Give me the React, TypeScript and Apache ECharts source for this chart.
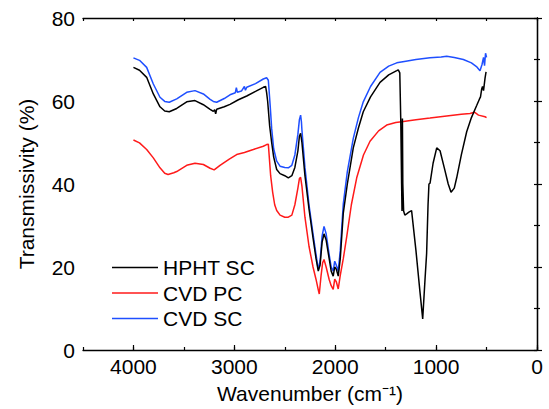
import React, { useEffect, useRef } from 'react';
import * as echarts from 'echarts';

// HPHT SC (black)
const hphtWn = [4000, 3940, 3869, 3803, 3737, 3690, 3645, 3571, 3472, 3390, 3307, 3240, 3208, 3195, 3185, 3175, 3100, 3043, 2960, 2877, 2790, 2713, 2690, 2680, 2670, 2650, 2630, 2610, 2580, 2547, 2500, 2465, 2430, 2400, 2370, 2355, 2343, 2330, 2300, 2260, 2220, 2190, 2168, 2150, 2130, 2111, 2090, 2060, 2040, 2020, 2005, 1990, 1970, 1950, 1920, 1880, 1821, 1770, 1722, 1650, 1556, 1470, 1390, 1375, 1360, 1350, 1342, 1338, 1334, 1330, 1322, 1310, 1292, 1270, 1243, 1200, 1160, 1133, 1110, 1094, 1080, 1071, 1060, 1030, 994, 961, 920, 880, 852, 820, 796, 750, 697, 650, 598, 570, 560, 548, 540, 530, 515, 505];
const hphtT = [68.1, 67.4, 65.7, 61.7, 58.6, 57.6, 57.4, 58.2, 59.8, 60.1, 59.1, 58.0, 57.5, 57.9, 56.9, 58.0, 58.6, 59.2, 60.3, 61.2, 62.3, 63.3, 63.5, 62.0, 60.0, 54.0, 50.0, 46.5, 43.5, 42.5, 42.0, 41.5, 42.0, 44.0, 48.0, 51.5, 52.2, 50.0, 42.0, 34.0, 27.0, 22.0, 19.0, 20.5, 26.0, 28.0, 26.5, 22.0, 19.0, 17.8, 20.0, 19.5, 17.8, 22.0, 33.0, 40.0, 48.7, 53.5, 57.4, 61.0, 64.5, 66.3, 67.3, 67.5, 66.8, 55.0, 40.0, 33.5, 55.8, 40.0, 33.5, 32.5, 32.8, 33.2, 33.6, 24.0, 14.0, 7.5, 17.0, 23.3, 35.0, 40.0, 40.2, 45.0, 48.7, 48.0, 44.0, 40.0, 38.0, 39.0, 41.5, 47.0, 52.6, 56.0, 58.9, 60.5, 61.0, 62.9, 63.5, 62.5, 65.5, 67.0];

// CVD PC (red)
const cvdPcWn = [4000, 3940, 3869, 3803, 3737, 3690, 3657, 3600, 3571, 3472, 3390, 3307, 3240, 3200, 3142, 3050, 2977, 2900, 2812, 2713, 2680, 2663, 2640, 2620, 2600, 2580, 2547, 2500, 2465, 2430, 2400, 2370, 2355, 2343, 2330, 2300, 2260, 2220, 2190, 2168, 2158, 2140, 2125, 2111, 2090, 2060, 2040, 2020, 2005, 1990, 1970, 1950, 1920, 1886, 1840, 1787, 1720, 1655, 1570, 1490, 1400, 1342, 1200, 1061, 895, 750, 664, 620, 580, 515, 500];
const cvdPcT = [50.6, 49.9, 48.3, 46.3, 43.9, 42.6, 42.3, 42.7, 43.0, 44.5, 45.0, 44.7, 43.8, 43.4, 44.5, 46.0, 47.1, 47.6, 48.3, 49.1, 49.5, 49.6, 42.0, 38.0, 35.0, 33.6, 32.5, 32.0, 32.0, 32.5, 35.0, 39.0, 41.3, 41.6, 39.5, 32.0, 25.0, 20.0, 17.0, 14.5, 13.5, 18.0, 21.0, 21.8, 20.0, 17.0, 15.5, 14.6, 17.1, 16.5, 14.7, 18.0, 22.0, 27.3, 35.0, 41.5, 47.0, 50.3, 52.8, 54.2, 54.8, 55.0, 55.5, 55.9, 56.4, 56.8, 57.0, 57.3, 56.6, 56.2, 56.0];

// CVD SC (blue)
const cvdScWn = [4000, 3940, 3869, 3803, 3737, 3690, 3645, 3571, 3472, 3390, 3307, 3240, 3208, 3175, 3100, 3043, 2990, 2980, 2970, 2930, 2900, 2890, 2877, 2790, 2713, 2680, 2663, 2645, 2630, 2610, 2580, 2547, 2500, 2465, 2430, 2400, 2370, 2355, 2343, 2335, 2330, 2300, 2260, 2220, 2190, 2168, 2150, 2130, 2111, 2090, 2060, 2040, 2020, 2005, 1990, 1970, 1950, 1920, 1880, 1821, 1770, 1722, 1650, 1556, 1470, 1390, 1300, 1200, 1061, 950, 895, 820, 730, 650, 600, 565, 545, 530, 520, 510, 500];
const cvdScT = [70.4, 69.8, 68.1, 64.1, 60.9, 59.9, 59.7, 60.5, 62.1, 62.5, 61.7, 60.4, 59.9, 59.7, 60.6, 61.5, 62.0, 63.2, 62.1, 62.4, 63.5, 62.6, 63.3, 64.2, 65.3, 65.6, 65.0, 59.0, 53.4, 48.5, 45.5, 44.3, 44.0, 43.9, 44.5, 47.0, 52.0, 55.5, 56.6, 55.0, 53.0, 44.0, 35.0, 28.0, 23.0, 19.4, 21.5, 27.5, 29.8, 28.0, 23.0, 20.0, 19.0, 21.4, 20.5, 19.0, 24.0, 35.2, 43.0, 51.0, 56.0, 59.8, 63.5, 66.9, 68.4, 69.2, 69.6, 70.0, 70.4, 70.6, 70.8, 70.5, 70.0, 69.2, 68.3, 67.3, 68.8, 70.5, 68.5, 71.5, 70.5];

const seriesNames = ['HPHT SC', 'CVD PC', 'CVD SC'];
const seriesColors = ['#000000', '#ff1a1a', '#1f4fff'];

const FONT = "'Liberation Sans', Arial, sans-serif";

function zip(a: number[], b: number[]) {
  return a.map((w, i) => [w, b[i]]);
}

export default function App() {
  const ref = useRef<HTMLDivElement>(null);
  useEffect(() => {
    const chart = echarts.init(ref.current!, null, { renderer: 'svg' });
    const axisLine = { show: true, lineStyle: { color: '#000', width: 1.3 } };
    const baseX = { type: 'value', min: 0, max: 4500, inverse: true, splitLine: { show: false } };
    const datas = [zip(hphtWn, hphtT), zip(cvdPcWn, cvdPcT), zip(cvdScWn, cvdScT)];
    chart.setOption({
      animation: false,
      backgroundColor: '#fff',
      grid: { left: 83, right: 12, top: 18, bottom: 54, containLabel: false },
      legend: {
        data: seriesNames,
        orient: 'vertical',
        left: 112,
        top: 257,
        padding: 0,
        itemGap: 4.5,
        itemWidth: 46,
        itemHeight: 1.6,
        icon: 'rect',
        textStyle: { fontSize: 21, fontFamily: FONT, color: '#000', lineHeight: 21 },
      },
      xAxis: [
        {
          ...baseX,
          interval: 1000,
          position: 'bottom',
          axisLine,
          axisTick: { show: true, inside: true, length: 5, lineStyle: { color: '#000', width: 1.2 } },
          axisLabel: {
            fontSize: 21,
            fontFamily: FONT,
            color: '#000',
            margin: 6,
            showMaxLabel: false,
            formatter: (v: number) => String(v),
          },
          name: 'Wavenumber (cm⁻¹)',
          nameLocation: 'middle',
          nameGap: 33,
          nameTextStyle: { fontSize: 21, fontFamily: FONT, color: '#000' },
        },
        {
          ...baseX,
          interval: 500,
          position: 'bottom',
          axisLine: { show: false },
          axisTick: { show: true, inside: true, length: 3, lineStyle: { color: '#000', width: 1.2 } },
          axisLabel: { show: false },
        },
        {
          ...baseX,
          interval: 500,
          position: 'top',
          axisLine,
          axisTick: { show: true, inside: true, length: 3, lineStyle: { color: '#000', width: 1.2 } },
          axisLabel: { show: false },
        },
      ],
      yAxis: [
        {
          type: 'value',
          min: 0,
          max: 80,
          interval: 20,
          position: 'left',
          axisLine,
          splitLine: { show: false },
          axisTick: { show: true, inside: true, length: 5, lineStyle: { color: '#000', width: 1.2 } },
          minorTick: { show: true, splitNumber: 2, length: 3, lineStyle: { color: '#000', width: 1.2 } },
          axisLabel: { fontSize: 21, fontFamily: FONT, color: '#000', margin: 8 },
          name: 'Transmissivity (%)',
          nameLocation: 'middle',
          nameGap: 46,
          nameTextStyle: { fontSize: 21, fontFamily: FONT, color: '#000' },
        },
        {
          type: 'value',
          min: 0,
          max: 80,
          interval: 10,
          position: 'right',
          axisLine,
          splitLine: { show: false },
          axisTick: { show: true, inside: true, length: 3, lineStyle: { color: '#000', width: 1.2 } },
          axisLabel: { show: false },
        },
      ],
      series: seriesNames.map((name, i) => ({
        name,
        type: 'line',
        xAxisIndex: 0,
        yAxisIndex: 0,
        data: datas[i],
        showSymbol: false,
        symbol: 'none',
        lineStyle: { color: seriesColors[i], width: 1.5 },
        itemStyle: { color: seriesColors[i] },
        z: i === 0 ? 4 : i === 1 ? 3 : 2,
      })),
    });
    return () => chart.dispose();
  }, []);
  return <div ref={ref} style={{ position: 'fixed', left: 0, top: 0, width: 549, height: 409 }} />;
}
